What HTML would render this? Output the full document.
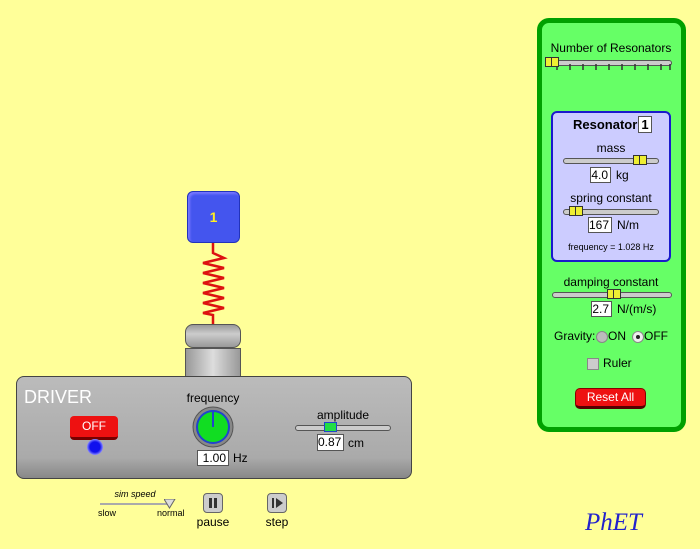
<!DOCTYPE html>
<html><head><style>
body{margin:0;width:700px;height:549px;background:#ffff99;position:relative;overflow:hidden;font-family:"Liberation Sans",sans-serif}
.a{position:absolute}
.c{position:absolute;transform:translateX(-50%);white-space:nowrap}
.box{position:absolute;background:#fff;border:1px solid #555;font-size:12px;text-align:right;padding-right:2px;box-sizing:border-box;line-height:14px}
.track{position:absolute;height:4px;background:#ccc;border:1px solid #555;border-radius:3px}
.thumb{position:absolute;width:14px;height:10px;background:#ee3;border:1px solid #333;box-sizing:border-box}
.thumb:after{content:"";position:absolute;left:5px;top:0;width:1px;height:8px;background:#333}
</style></head><body>
<div class="a" style="left:537px;top:18px;width:149px;height:414px;background:#66ff66;border:5px solid #00a000;border-radius:12px;box-sizing:border-box"></div>
<div class="c" style="left:611px;top:41px;font-size:12px">Number of Resonators</div>
<div class="track" style="left:546px;top:60px;width:124px"></div>
<svg class="a" style="left:545px;top:64px" width="128" height="8"><g stroke="#333" stroke-width="1.5">
<line x1="12" y1="0" x2="12" y2="6"/><line x1="25" y1="0" x2="25" y2="6"/><line x1="38" y1="0" x2="38" y2="6"/><line x1="51" y1="0" x2="51" y2="6"/><line x1="64" y1="0" x2="64" y2="6"/><line x1="77" y1="0" x2="77" y2="6"/><line x1="90" y1="0" x2="90" y2="6"/><line x1="103" y1="0" x2="103" y2="6"/><line x1="116" y1="0" x2="116" y2="6"/><line x1="125" y1="0" x2="125" y2="6"/></g></svg>
<div class="thumb" style="left:545px;top:57px"></div>

<div class="a" style="left:551px;top:111px;width:120px;height:151px;background:#ccccff;border:2px solid #1a1acc;border-radius:6px;box-sizing:border-box"></div>
<div class="a" style="left:573px;top:117px;font-size:13px;font-weight:bold">Resonator</div>
<div class="box" style="left:638px;top:116px;width:14px;height:17px;font-size:13px;font-weight:bold;text-align:center;padding:0;line-height:15px">1</div>
<div class="c" style="left:611px;top:141px;font-size:12px">mass</div>
<div class="track" style="left:563px;top:158px;width:94px"></div>
<div class="thumb" style="left:633px;top:155px"></div>
<div class="box" style="left:590px;top:167px;width:21px;height:16px">4.0</div>
<div class="a" style="left:616px;top:168px;font-size:12px">kg</div>
<div class="c" style="left:611px;top:191px;font-size:12px">spring constant</div>
<div class="track" style="left:563px;top:209px;width:94px"></div>
<div class="thumb" style="left:569px;top:206px"></div>
<div class="box" style="left:588px;top:217px;width:24px;height:16px">167</div>
<div class="a" style="left:617px;top:218px;font-size:12px">N/m</div>
<div class="c" style="left:611px;top:242px;font-size:9px">frequency = 1.028 Hz</div>

<div class="c" style="left:611px;top:275px;font-size:12px">damping constant</div>
<div class="track" style="left:552px;top:292px;width:118px"></div>
<div class="thumb" style="left:607px;top:289px"></div>
<div class="box" style="left:591px;top:301px;width:21px;height:16px">2.7</div>
<div class="a" style="left:617px;top:302px;font-size:12px">N/(m/s)</div>
<div class="a" style="left:554px;top:329px;font-size:12px">Gravity:</div>
<div class="a" style="left:596px;top:331px;width:10px;height:10px;border-radius:50%;background:#bbb;border:1px solid #888"></div>
<div class="a" style="left:608px;top:329px;font-size:12px">ON</div>
<div class="a" style="left:632px;top:331px;width:10px;height:10px;border-radius:50%;background:#eee;border:1px solid #888"><div class="a" style="left:3px;top:3px;width:4px;height:4px;border-radius:50%;background:#222"></div></div>
<div class="a" style="left:644px;top:329px;font-size:12px">OFF</div>
<div class="a" style="left:587px;top:358px;width:10px;height:10px;background:#ccc;border:1px solid #888"></div>
<div class="a" style="left:603px;top:356px;font-size:12px">Ruler</div>
<div class="a" style="left:575px;top:388px;width:71px;height:21px;background:#ee1111;border-radius:5px;border:1px solid #800;border-bottom:3px solid #500;box-sizing:border-box;color:#fff;font-size:12px;text-align:center;line-height:17px">Reset All</div>

<div class="a" style="left:187px;top:191px;width:53px;height:52px;background:#4455ee;border:1px solid #2233bb;border-radius:6px;box-sizing:border-box;box-shadow:2px 2px 2px #77f inset;color:#ffee22;font-size:14px;font-weight:bold;text-align:center;line-height:50px">1</div>
<svg class="a" style="left:200px;top:243px" width="28" height="82"><polyline fill="none" stroke="#dd1111" stroke-width="2.5" points="13,0 13,10 24,15 3,20 24,25 3,30 24,35 3,40 24,45 3,50 24,55 3,60 24,65 3,70 13,72 13,82"/></svg>
<div class="a" style="left:185px;top:324px;width:56px;height:24px;background:linear-gradient(#999,#ccc 40%,#999);border:1px solid #555;border-radius:8px;box-sizing:border-box"></div>
<div class="a" style="left:185px;top:348px;width:56px;height:29px;background:linear-gradient(90deg,#999,#ddd 50%,#999);border:1px solid #555;box-sizing:border-box"></div>

<div class="a" style="left:16px;top:376px;width:396px;height:103px;background:linear-gradient(#bbb,#aaa 80%,#888);border:1px solid #444;border-radius:8px;box-sizing:border-box"></div>
<div class="a" style="left:24px;top:387px;font-size:18px;color:#fff">DRIVER</div>
<div class="a" style="left:70px;top:416px;width:48px;height:24px;background:#ee1111;border-radius:4px;border-bottom:3px solid #700;box-sizing:border-box;color:#fff;font-size:12px;text-align:center;line-height:20px">OFF</div>
<div class="a" style="left:87px;top:439px;width:16px;height:16px;border-radius:50%;background:radial-gradient(#1010ee 45%,#8888ff 70%,rgba(150,150,255,0) 100%)"></div>
<div class="c" style="left:213px;top:391px;font-size:12px">frequency</div>
<svg class="a" style="left:192px;top:406px" width="42" height="42"><circle cx="21" cy="21" r="20" fill="#888" stroke="#555"/><circle cx="21" cy="21" r="16" fill="#11dd22" stroke="#2244cc" stroke-width="2"/><line x1="21" y1="21" x2="21" y2="5" stroke="#2244cc" stroke-width="2"/></svg>
<div class="box" style="left:197px;top:450px;width:32px;height:16px">1.00</div>
<div class="a" style="left:233px;top:451px;font-size:12px">Hz</div>
<div class="c" style="left:343px;top:408px;font-size:12px">amplitude</div>
<div class="track" style="left:295px;top:425px;width:94px;background:#ccc"></div>
<div class="a" style="left:324px;top:422px;width:13px;height:10px;background:#22dd44;border:1px solid #2244cc;box-sizing:border-box"></div>
<div class="box" style="left:317px;top:434px;width:27px;height:17px">0.87</div>
<div class="a" style="left:348px;top:436px;font-size:12px">cm</div>

<div class="c" style="left:135px;top:489px;font-size:9px;font-style:italic">sim speed</div>
<div class="a" style="left:100px;top:503px;width:72px;height:2px;background:#aaa"></div>
<svg class="a" style="left:164px;top:499px" width="12" height="10"><polygon points="0,0 11,0 5.5,9" fill="#ddd" stroke="#666"/></svg>
<div class="a" style="left:98px;top:508px;font-size:9px">slow</div>
<div class="a" style="left:157px;top:508px;font-size:9px">normal</div>
<div class="a" style="left:203px;top:493px;width:20px;height:20px;background:#ccc;border:1px solid #666;border-radius:4px;box-sizing:border-box"><div class="a" style="left:5px;top:4px;width:3px;height:10px;background:#333"></div><div class="a" style="left:10px;top:4px;width:3px;height:10px;background:#333"></div></div>
<div class="c" style="left:213px;top:515px;font-size:12px">pause</div>
<div class="a" style="left:267px;top:493px;width:20px;height:20px;background:#ccc;border:1px solid #666;border-radius:4px;box-sizing:border-box"><div class="a" style="left:4px;top:4px;width:2px;height:10px;background:#333"></div><div class="a" style="left:8px;top:4px;width:0;height:0;border-left:7px solid #333;border-top:5px solid transparent;border-bottom:5px solid transparent"></div></div>
<div class="c" style="left:277px;top:515px;font-size:12px">step</div>

<div class="a" style="left:585px;top:509px;font-family:'Liberation Serif',serif;font-style:italic;font-size:25px;color:#2222cc">PhET</div>
</body></html>
